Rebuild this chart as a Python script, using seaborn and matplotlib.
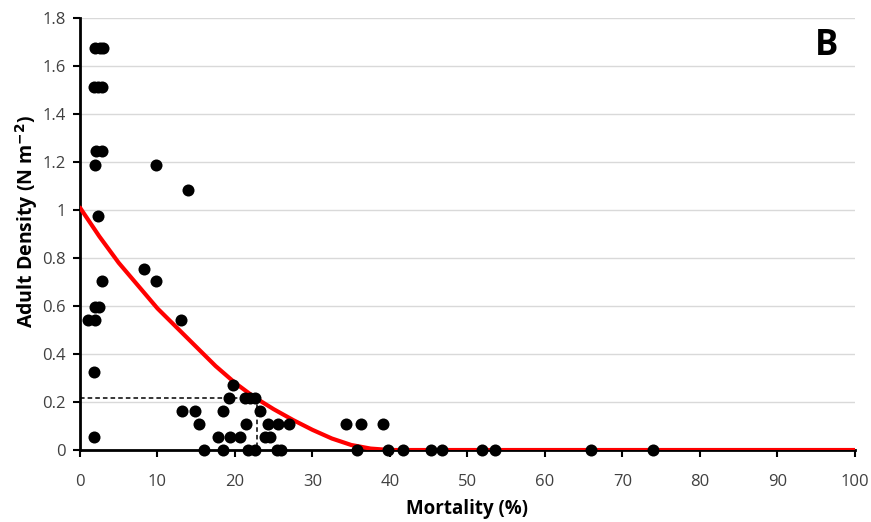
import numpy as np
import pandas as pd
import matplotlib
matplotlib.use("Agg")
import matplotlib.pyplot as plt
import seaborn as sns

# ---- data ----
mortality = [2.0, 2.6, 3.0,
             1.8, 2.3, 2.8,
             2.1, 2.8,
             1.9, 9.8,
             13.9,
             2.3,
             8.3,
             2.8, 9.8,
             1.9, 2.4,
             1.0, 1.9, 13.0,
             1.85,
             19.8,
             19.2, 21.3, 22.0, 22.6,
             13.2, 14.8, 18.4, 23.2,
             15.4, 21.4, 24.3, 25.6, 27.0, 34.3, 36.3, 39.1,
             1.85, 17.8, 19.3, 20.6, 23.9, 24.5,
             16.0, 18.4, 21.7, 22.6, 25.4, 26.0, 35.8, 39.7, 41.7, 45.3, 46.7,
             51.9, 53.5, 65.9, 74.0]
density = [1.675, 1.675, 1.675,
           1.513, 1.513, 1.513,
           1.247, 1.247,
           1.188, 1.188,
           1.085,
           0.975,
           0.755,
           0.705, 0.705,
           0.595, 0.595,
           0.54, 0.54, 0.54,
           0.325,
           0.27,
           0.217, 0.217, 0.217, 0.217,
           0.163, 0.163, 0.163, 0.163,
           0.108, 0.108, 0.108, 0.108, 0.108, 0.108, 0.108, 0.108,
           0.054, 0.054, 0.054, 0.054, 0.054, 0.054,
           0, 0, 0, 0, 0, 0, 0, 0, 0, 0, 0,
           0, 0, 0, 0]

fit_x = [0, 2.5, 5, 7.5, 10, 12.5, 15, 17.5, 20, 22.5, 25, 27.5, 30, 32.5, 35, 37.5, 40, 100]
fit_y = [1.01, 0.89, 0.78, 0.685, 0.59, 0.51, 0.43, 0.35, 0.28, 0.22, 0.17, 0.125,
         0.084, 0.048, 0.021, 0.006, 0.0, 0.0]

cutoff_x = 22.9
cutoff_y = 0.217

x_ticks = [0, 10, 20, 30, 40, 50, 60, 70, 80, 90, 100]
y_ticks = [0, 0.2, 0.4, 0.6, 0.8, 1.0, 1.2, 1.4, 1.6, 1.8]
y_tick_labels = ["0", "0.2", "0.4", "0.6", "0.8", "1", "1.2", "1.4", "1.6", "1.8"]

# ---- plot ----
sns.set_theme(style="white")
plt.rcParams['font.family'] = ['Open Sans', 'DejaVu Sans']

fig = plt.figure(figsize=(8.71, 5.22), dpi=100)
ax = fig.add_axes([0.0918, 0.1379, 0.8898, 0.8276])

pts = pd.DataFrame({"Mortality": mortality, "Density": density})
fit = pd.DataFrame({"Mortality": fit_x, "Density": fit_y})

ax.set_xlim(0, 100)
ax.set_ylim(0, 1.8)
ax.set_yticks(y_ticks)
ax.set_yticklabels(y_tick_labels)
ax.set_xticks(x_ticks)

for yt in y_ticks[1:]:
    ax.axhline(yt, color="#d9d9d9", lw=1.0, zorder=0)

ax.plot([0, cutoff_x, cutoff_x], [cutoff_y, cutoff_y, 0], color="black",
        lw=1.1, ls=(0, (3, 2)), zorder=2)

sns.lineplot(data=fit, x="Mortality", y="Density", color="#ff0000", lw=3,
             ax=ax, zorder=3, estimator=None, sort=False)
sns.scatterplot(data=pts, x="Mortality", y="Density", color="black", s=75,
                edgecolor="black", linewidth=0, ax=ax, zorder=4, clip_on=False)

for s in ["top", "right"]:
    ax.spines[s].set_visible(False)
for s in ["left", "bottom"]:
    ax.spines[s].set_color("black")
    ax.spines[s].set_linewidth(2)
    ax.spines[s].set_zorder(2.5)

ax.tick_params(axis="both", which="major", direction="out", length=5, width=1.5,
               color="black", labelsize=12, labelcolor="#404040",
               left=True, bottom=True)
ax.tick_params(axis="x", pad=12)
ax.tick_params(axis="y", pad=5)

ax.set_xlabel("Mortality (%)", fontsize=13.5, fontweight="bold", color="black", labelpad=7)
ax.set_ylabel("Adult Density (N m$^{\\mathbf{-2}}$)", fontsize=14, fontweight="bold",
              color="black")
ax.yaxis.set_label_coords(-0.052, 0.53)

ax.text(0.963, 0.935, "B", transform=ax.transAxes, fontsize=25, fontweight="bold",
        ha="center", va="center", color="black")

fig.savefig("out.png", dpi=100)
